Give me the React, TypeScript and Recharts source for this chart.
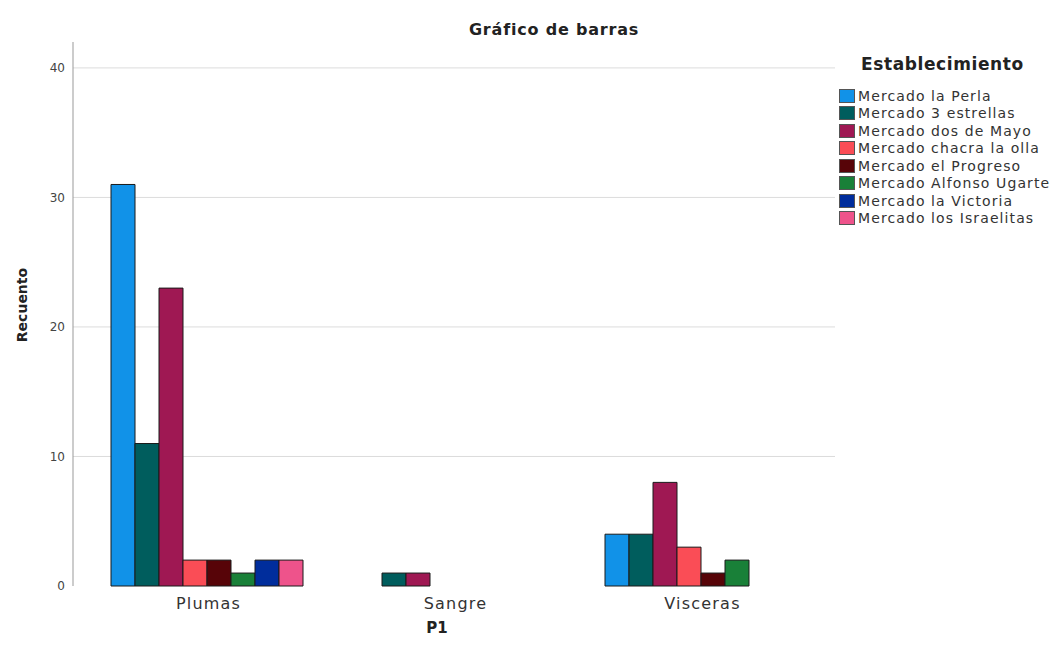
import { Bar, BarChart, CartesianGrid, XAxis, YAxis } from "recharts";

const categories = ["Plumas", "Sangre", "Visceras"];
const markets = [
  "Mercado la Perla",
  "Mercado 3 estrellas",
  "Mercado dos de Mayo",
  "Mercado chacra la olla",
  "Mercado el Progreso",
  "Mercado Alfonso Ugarte",
  "Mercado la Victoria",
  "Mercado los Israelitas",
];
const colors = ["#1192e8", "#005d5d", "#9f1853", "#fa4d56", "#570408", "#198038", "#002d9c", "#ee538b"];
// counts per market, in category order (null = no bar)
const perla = [31, null, 4];
const tresEstrellas = [11, 1, 4];
const dosDeMayo = [23, 1, 8];
const chacra = [2, null, 3];
const progreso = [2, null, 1];
const alfonso = [1, null, 2];
const victoria = [2, null, null];
const israelitas = [2, null, null];
const yTicks = [0, 10, 20, 30, 40];
const gridValues = [10, 20, 30, 40];

const series = [perla, tresEstrellas, dosDeMayo, chacra, progreso, alfonso, victoria, israelitas];
const data = categories.map((c, i) => {
  const row: Record<string, string | number | null> = { cat: c };
  series.forEach((s, k) => (row["m" + k] = s[i]));
  return row;
});

const font = "'DejaVu Sans', Verdana, sans-serif";

export default function App() {
  return (
    <div style={{ position: "absolute", left: 0, top: 0, width: 1056, height: 661, background: "#fff", fontFamily: font }}>
      <BarChart
        width={1056}
        height={661}
        data={data}
        margin={{ top: 42, right: 221, left: 0, bottom: 0 }}
        barCategoryGap={26}
        barGap={0}
      >
        <CartesianGrid horizontal vertical={false} horizontalValues={gridValues} stroke="#dcdcdc" />
        <XAxis
          dataKey="cat"
          height={75}
          axisLine={false}
          tickLine={false}
          padding={{ left: 12, right: 9 }}
          tick={{ fontSize: 16, fill: "#333", fontFamily: font, letterSpacing: 1.2 }}
          dy={4}
        />
        <YAxis
          width={73}
          domain={[0, 42]}
          ticks={yTicks}
          axisLine={{ stroke: "#999" }}
          tickLine={false}
          tick={{ fontSize: 12, fill: "#444", fontFamily: font }}
          tickMargin={2}
        />
        {markets.map((m, k) => (
          <Bar
            key={m}
            dataKey={"m" + k}
            name={m}
            fill={colors[k]}
            stroke="#1a1a1a"
            strokeWidth={1}
            isAnimationActive={false}
          />
        ))}
      </BarChart>

      <div
        style={{
          position: "absolute",
          left: 404,
          top: 20,
          width: 300,
          textAlign: "center",
          fontSize: 16,
          letterSpacing: 0.8,
          fontWeight: "bold",
          color: "#222",
        }}
      >
        Gráfico de barras
      </div>
      <div style={{ position: "absolute", left: 387, top: 619, width: 100, textAlign: "center", fontSize: 15, fontWeight: "bold", color: "#222" }}>
        P1
      </div>
      <div
        style={{
          position: "absolute",
          left: 22,
          top: 305,
          transform: "translate(-50%, -50%) rotate(-90deg)",
          fontSize: 14,
          fontWeight: "bold",
          color: "#222",
          whiteSpace: "nowrap",
        }}
      >
        Recuento
      </div>

      <div style={{ position: "absolute", left: 839, top: 54 }}>
        <div style={{ fontSize: 17, letterSpacing: 0.6, fontWeight: "bold", color: "#222", marginLeft: 22, marginBottom: 13 }}>
          Establecimiento
        </div>
        {markets.map((m, k) => (
          <div key={m} style={{ display: "flex", alignItems: "center", height: 17.5 }}>
            <span
              style={{
                display: "inline-block",
                width: 16,
                height: 14,
                background: colors[k],
                border: "1px solid #555",
                boxSizing: "border-box",
                marginRight: 3,
              }}
            />
            <span style={{ fontSize: 14, letterSpacing: 1.1, color: "#333", whiteSpace: "nowrap" }}>{m}</span>
          </div>
        ))}
      </div>
    </div>
  );
}
